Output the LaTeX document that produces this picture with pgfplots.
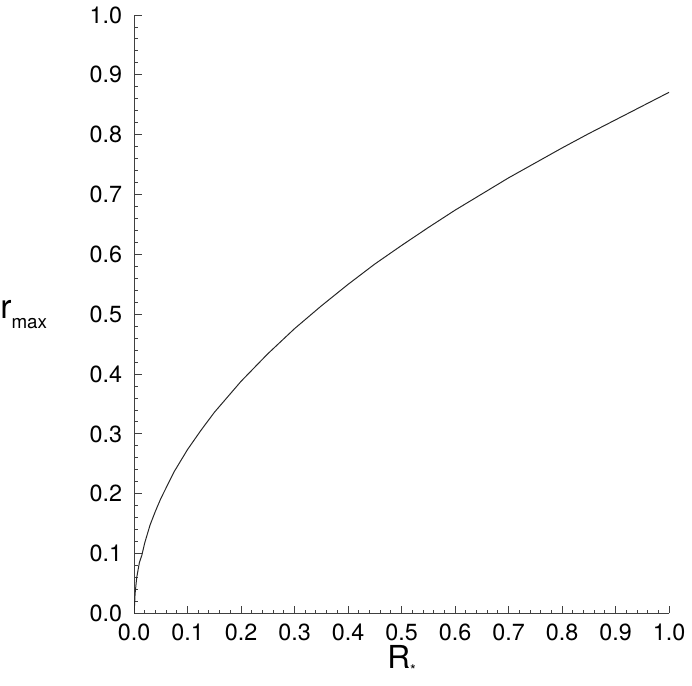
\documentclass[border=0pt]{standalone}
\usepackage{pgfplots}
\pgfplotsset{compat=1.18}
\usepackage{fontspec}
\setmainfont{TeX Gyre Heros}

% r_max against R_*
\begin{document}
\begin{tikzpicture}
\begin{axis}[
    at={(0,0)}, anchor=south west,
    scale only axis,
    width=270.5pt, height=302.5pt,
    xmin=0, xmax=1, ymin=0, ymax=1,
    axis lines*=left,
    axis line style={black!75, line width=0.5pt},
    tick align=inside,
    tick style={black!75, line width=0.5pt},
    major tick length=4pt, minor tick length=2pt,
    xtick={0,0.1,...,1.0}, ytick={0,0.1,...,1.0},
    minor tick num=4,
    /pgf/number format/assume math mode=true,
    /pgf/number format/fixed, /pgf/number format/fixed zerofill,
    /pgf/number format/precision=1,
    ticklabel style={font=\fontsize{11.8}{13}\selectfont},
    xticklabel style={yshift=-2pt},
    yticklabel style={xshift=-2.5pt},
    xlabel={R\raisebox{-0.4ex}{\fontsize{7.5}{8}\selectfont *}},
    xlabel style={at={(axis description cs:0.5,0)}, anchor=base, yshift=-28pt,
        font=\fontsize{16}{17}\selectfont, inner sep=0pt},
    ylabel={r\raisebox{-0.55ex}{\fontsize{9.5}{11}\selectfont max}},
    ylabel style={at={(axis description cs:-0.2505,0.5)}, anchor=west, rotate=-90,
        font=\fontsize{17}{18}\selectfont, inner sep=0pt},
]
\addplot[black!85, line width=0.5pt] coordinates {
(0,0) (0.001,0.015) (0.002,0.033) (0.005,0.060) (0.01,0.085) (0.0145,0.097)
(0.02,0.118) (0.03,0.148) (0.04,0.171) (0.05,0.192) (0.06,0.210)
(0.075,0.237) (0.1,0.274) (0.125,0.306) (0.15,0.336) (0.2,0.388)
(0.25,0.434) (0.3,0.476) (0.35,0.514) (0.4,0.550) (0.45,0.584)
(0.5,0.615) (0.55,0.645) (0.6,0.674) (0.65,0.701) (0.7,0.728)
(0.75,0.753) (0.8,0.778) (0.85,0.802) (0.9,0.825) (0.95,0.848) (1.0,0.871)
};
\end{axis}
\useasboundingbox (-67.75pt,-36.5pt) rectangle (278.25pt,309.5pt);
\end{tikzpicture}
\end{document}
